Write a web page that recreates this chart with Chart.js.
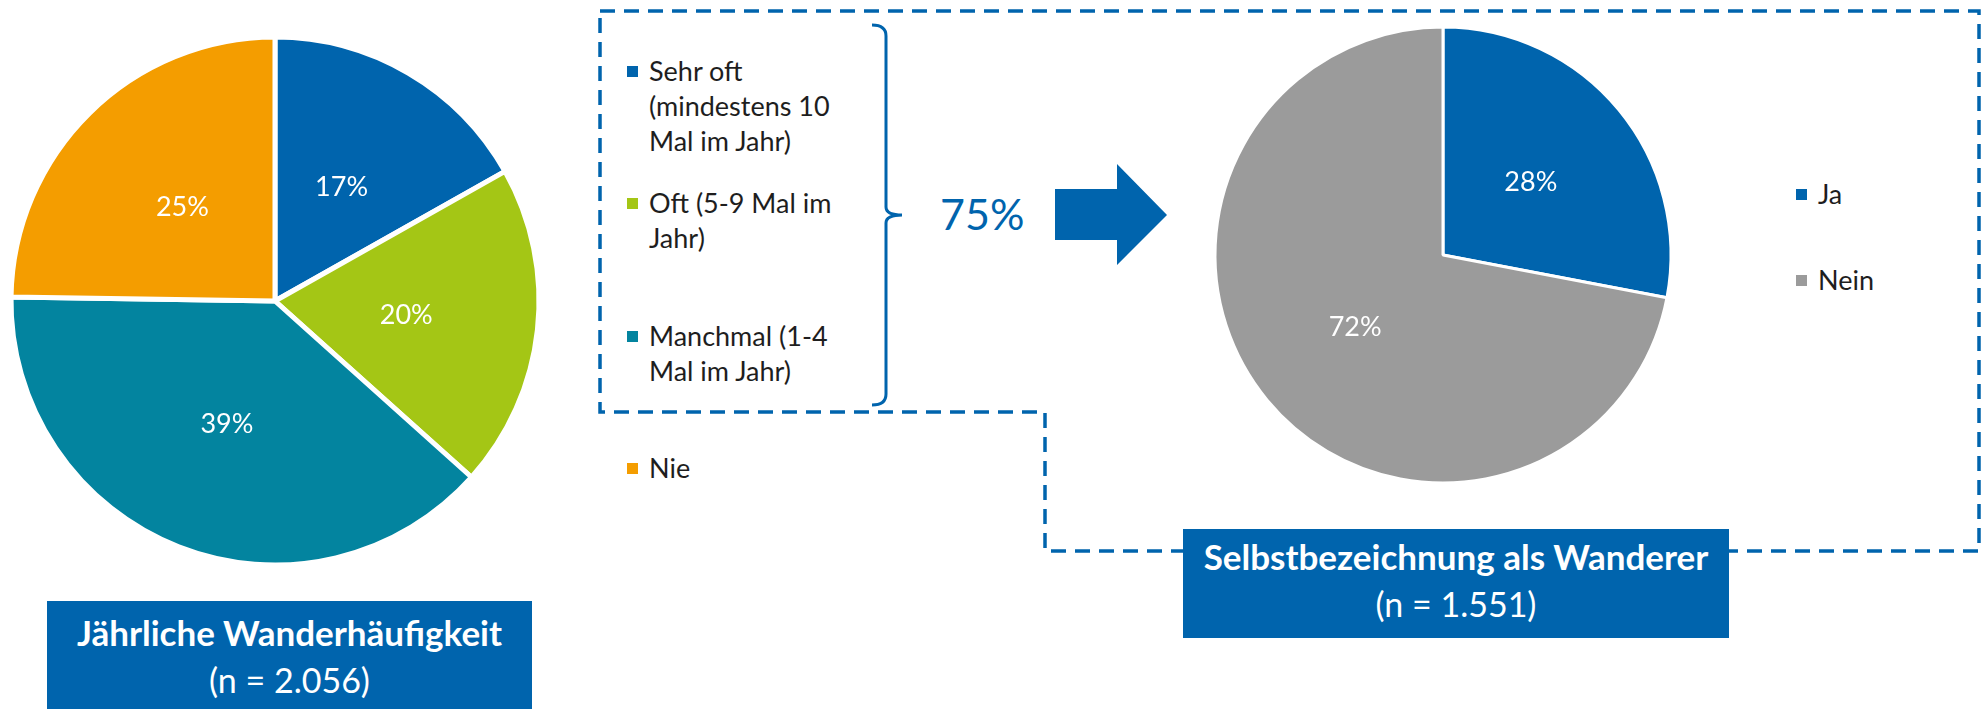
<!DOCTYPE html>
<html>
<head>
<meta charset="utf-8">
<script src="https://cdn.jsdelivr.net/npm/chart.js@4"></script>
<style>
  body { margin: 0; background: #fff; font-family: Lato, "Noto Sans", sans-serif; }
  #page { position: relative; width: 1986px; height: 709px; overflow: hidden; }
  canvas { position: absolute; }
  #freqChart { left: 0; top: 0; }
  #selfChart { left: 1203px; top: 15px; }
  svg { position: absolute; left: 0; top: 0; }
  .legend { position: absolute; font-size: 27px; line-height: 35px; color: #1e1e1e; }
  .legend .item { position: absolute; left: 0; width: 205px; padding-left: 22px; }
  .legend .box { position: absolute; left: 0; top: 13px; width: 11px; height: 11px; }
  .titlebox { position: absolute; background: #0064AD; color: #fff; text-align: center; }
  .titlebox .t1 { font-size: 35px; font-weight: 700; line-height: 47px; }
  .titlebox .t2 { font-size: 34px; line-height: 47px; }
  #total { position: absolute; left: 940px; top: 192px; font-size: 43px; line-height: 43px; color: #0064AD; }
</style>
</head>
<body>
<div id="page">
  <svg width="1986" height="709">
    <path d="M600,11 L1979,11 L1979,551 L1045,551 L1045,412 L600,412 Z" fill="none" stroke="#0064AD" stroke-width="3.5" stroke-dasharray="15 9"/>
    <path d="M872,25 Q886,25 886,36 L886,207 Q886,215 902,215 Q886,215 886,223 L886,394 Q886,405 872,405" fill="none" stroke="#0064AD" stroke-width="3"/>
    <polygon points="1055,189 1117,189 1117,164 1167,215 1117,265 1117,240 1055,240" fill="#0064AD"/>
  </svg>
  <canvas id="freqChart" width="550" height="602"></canvas>
  <canvas id="selfChart" width="480" height="480"></canvas>
  <div class="legend" id="freqLegend" style="left:627px;top:0"></div>
  <div class="legend" id="selfLegend" style="left:1796px;top:0"></div>
  <div id="total"></div>
  <div class="titlebox" style="left:47px;top:601px;width:485px;height:120px;padding-top:8px">
    <div class="t1">Jährliche Wanderhäufigkeit</div>
    <div class="t2">(n = 2.056)</div>
  </div>
  <div class="titlebox" style="left:1183px;top:529px;width:546px;height:105px;padding-top:4px">
    <div class="t1">Selbstbezeichnung als Wanderer</div>
    <div class="t2">(n = 1.551)</div>
  </div>
</div>
<script>
// Jährliche Wanderhäufigkeit
const freqLabels = ["Sehr oft (mindestens 10 Mal im Jahr)", "Oft (5-9 Mal im Jahr)", "Manchmal (1-4 Mal im Jahr)", "Nie"];
const freqValues = [17, 20, 39, 25];
const freqColors = ["#0064AD", "#A4C615", "#03849F", "#F49D00"];

// Selbstbezeichnung als Wanderer
const selfLabels = ["Ja", "Nein"];
const selfValues = [28, 72];
const selfColors = ["#0064AD", "#9B9B9B"];

// share of the first three groups
const wanderShare = 75;

// legend rows (top of each entry)
const freqLegendTops = [53, 185, 318, 450];
const selfLegendTops = [176, 262];

const pctLabels = {
    id: "pctLabels",
    afterDatasetsDraw(chart) {
        const ctx = chart.ctx;
        const ds = chart.data.datasets[0];
        ctx.save();
        ctx.font = "27px Lato";
        ctx.fillStyle = "#fff";
        ctx.textAlign = "center";
        ctx.textBaseline = "middle";
        chart.getDatasetMeta(0).data.forEach((arc, i) => {
            const p = arc.tooltipPosition();
            ctx.fillText(ds.data[i] + "%", p.x, p.y);
        });
        ctx.restore();
    }
};

function makePie(id, labels, values, colors, radius, border) {
    return new Chart(document.getElementById(id), {
        type: "pie",
        data: {
            labels: labels,
            datasets: [{
                data: values,
                backgroundColor: colors,
                borderColor: "#fff",
                borderWidth: border
            }]
        },
        options: {
            responsive: false,
            animation: false,
            radius: radius,
            layout: { padding: 0 },
            plugins: {
                legend: { display: false },
                tooltip: { enabled: false }
            }
        },
        plugins: [pctLabels]
    });
}

function makeLegend(id, labels, colors, tops) {
    const el = document.getElementById(id);
    labels.forEach((name, i) => {
        const item = document.createElement("div");
        item.className = "item";
        item.style.top = tops[i] + "px";
        item.innerHTML = `<span class="box" style="background:${colors[i]}"></span>${name}`;
        el.appendChild(item);
    });
}

makePie("freqChart", freqLabels, freqValues, freqColors, 264, 5);
makePie("selfChart", selfLabels, selfValues, selfColors, 228, 3);
makeLegend("freqLegend", freqLabels, freqColors, freqLegendTops);
makeLegend("selfLegend", selfLabels, selfColors, selfLegendTops);
document.getElementById("total").textContent = wanderShare + "%";
</script>
</body>
</html>
